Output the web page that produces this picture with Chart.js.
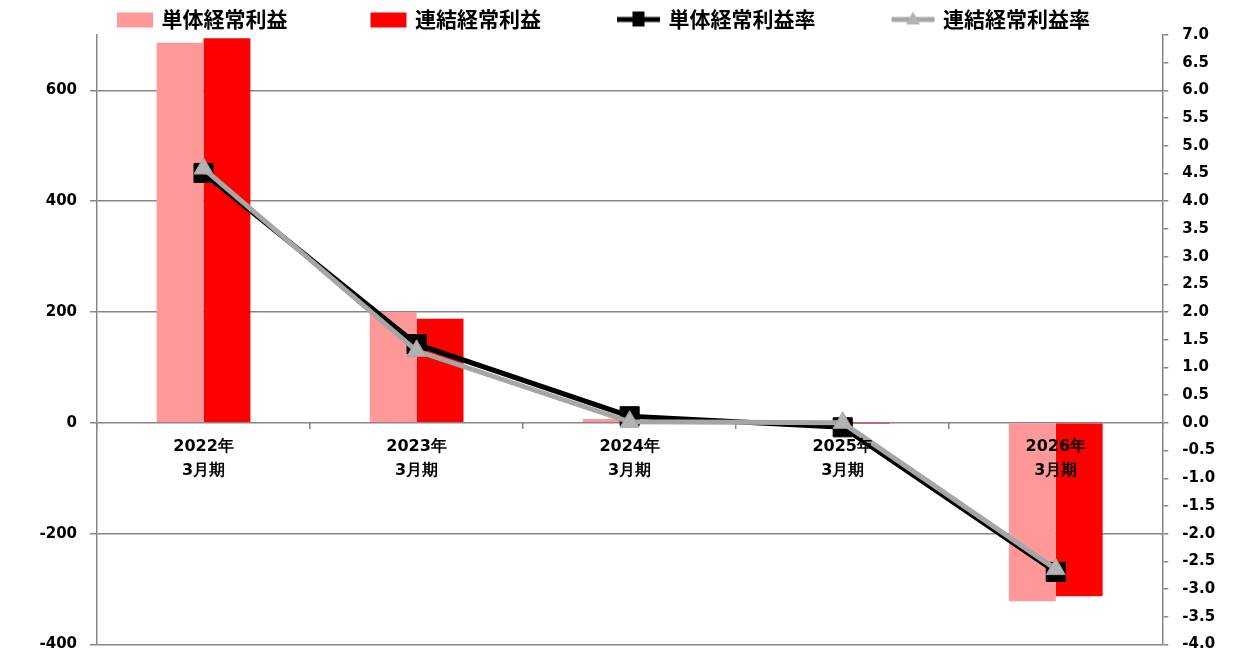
<!DOCTYPE html>
<html>
<head>
<meta charset="utf-8">
<script src="https://cdn.jsdelivr.net/npm/chart.js@4.4.0/dist/chart.umd.min.js"></script>
<style>
  html, body { margin: 0; padding: 0; background: #fff; }
  #wrap { width: 1243px; height: 659px; }
</style>
</head>
<body>
<div id="wrap"><canvas id="profitChart"></canvas></div>
<script>
const periods = [['2022年', '3月期'], ['2023年', '3月期'], ['2024年', '3月期'], ['2025年', '3月期'], ['2026年', '3月期']];
const seriesNames = ['単体経常利益', '連結経常利益', '単体経常利益率', '連結経常利益率'];
const soloProfit = [686, 200, 7, -1, -322];
const consolProfit = [694, 188, 1, -2, -313];
const soloMargin = [4.51, 1.42, 0.12, -0.08, -2.69];
const consolMargin = [4.59, 1.30, 0.02, 0.00, -2.64];
const leftTicks = [-400, -200, 0, 200, 400, 600];

const gridColor = '#868686';
const tickFont = { family: 'DejaVu Sans', size: 15, weight: 'bold' };

// legend swatches are drawn into small canvases and used as point styles
function makeSwatch(kind, color, marker) {
  const c = document.createElement('canvas');
  c.width = 124;
  c.height = 20;
  const g = c.getContext('2d');
  const right = 118;
  if (kind === 'bar') {
    g.fillStyle = color;
    g.fillRect(right - 36, 3, 36, 15);
  } else {
    g.strokeStyle = color;
    g.lineWidth = 5;
    g.beginPath();
    g.moveTo(right - 43, 10);
    g.lineTo(right, 10);
    g.stroke();
    const cx = right - 21.5;
    if (marker === 'rect') {
      g.fillStyle = '#000';
      g.fillRect(cx - 6, 2, 12, 15);
    } else {
      g.fillStyle = '#B3B3B3';
      g.beginPath();
      g.moveTo(cx, 2);
      g.lineTo(cx + 7, 15);
      g.lineTo(cx - 7, 15);
      g.closePath();
      g.fill();
    }
  }
  return c;
}

const swatches = [
  makeSwatch('bar', '#FF9999'),
  makeSwatch('bar', '#FF0000'),
  makeSwatch('line', '#000000', 'rect'),
  makeSwatch('line', '#A6A6A6', 'triangle')
];

const legendHeight = {
  id: 'legendHeight',
  afterInit(chart) {
    const fit = chart.legend.fit;
    chart.legend.fit = function () {
      fit.call(this);
      this.height = 35;
    };
  }
};

const chart = new Chart(document.getElementById('profitChart'), {
  type: 'bar',
  data: {
    labels: periods,
    datasets: [
      {
        label: seriesNames[0], data: soloProfit, yAxisID: 'y', order: 3,
        backgroundColor: '#FF9999', borderWidth: 0,
        categoryPercentage: 0.44, barPercentage: 1
      },
      {
        label: seriesNames[1], data: consolProfit, yAxisID: 'y', order: 3,
        backgroundColor: '#FF0000', borderWidth: 0,
        categoryPercentage: 0.44, barPercentage: 1
      },
      {
        type: 'line', label: seriesNames[2], data: soloMargin, yAxisID: 'y2', order: 2,
        borderColor: '#000000', borderWidth: 5, tension: 0,
        pointStyle: 'rect', pointRadius: 13.5, pointBackgroundColor: '#000', pointBorderColor: '#000', pointBorderWidth: 1
      },
      {
        type: 'line', label: seriesNames[3], data: consolMargin, yAxisID: 'y2', order: 1,
        borderColor: '#A6A6A6', borderWidth: 5, tension: 0,
        pointStyle: 'triangle', pointRadius: 11, pointBackgroundColor: '#B3B3B3', pointBorderColor: '#A0A0A0', pointBorderWidth: 1
      }
    ]
  },
  options: {
    responsive: true,
    maintainAspectRatio: false,
    animation: false,
    layout: { padding: { left: 34, right: 0, top: 0, bottom: 9 } },
    plugins: {
      tooltip: { enabled: false },
      legend: {
        position: 'top',
        align: 'start',
        labels: {
          usePointStyle: true,
          pointStyleWidth: 108,
          padding: 9,
          color: '#000',
          font: { family: 'Noto Sans CJK JP', size: 21, weight: 'bold' },
          generateLabels: (ch) => ch.data.datasets.map((ds, i) => ({
            text: ds.label,
            pointStyle: swatches[i],
            fillStyle: 'transparent',
            strokeStyle: 'transparent',
            lineWidth: 0,
            hidden: false,
            datasetIndex: i
          }))
        }
      }
    },
    scales: {
      x: {
        position: { y: 0 },
        offset: true,
        afterFit: (s) => { s.paddingTop = 0; s.paddingBottom = 0; s.height = 0; },
        border: { display: false },
        grid: { drawOnChartArea: false, drawTicks: true, tickLength: 6, color: gridColor, lineWidth: 1.5, offset: true },
        ticks: { z: 1, color: '#000', font: { family: 'DejaVu Sans', size: 16, weight: 'bold', lineHeight: 1.5 }, padding: 6, maxRotation: 0, autoSkip: false }
      },
      y: {
        position: 'left',
        min: -400,
        max: 700,
        afterBuildTicks: (s) => { s.ticks = leftTicks.map(v => ({ value: v })); },
        afterFit: (s) => { s.width = 63; s.paddingTop = 0; s.paddingBottom = 0; },
        border: { color: gridColor, width: 1.5 },
        grid: { color: gridColor, lineWidth: 1.5, tickLength: 7 },
        ticks: { color: '#000', font: tickFont, padding: 13 }
      },
      y2: {
        position: 'right',
        min: -4,
        max: 7,
        afterFit: (s) => { s.width = 80.7; s.paddingTop = 0; s.paddingBottom = 0; },
        border: { color: gridColor, width: 1.5 },
        grid: { drawOnChartArea: false, color: gridColor, lineWidth: 1.5, tickLength: 6 },
        ticks: { stepSize: 0.5, color: '#000', font: tickFont, padding: 14, callback: (v) => v.toFixed(1) }
      }
    }
  },
  plugins: [legendHeight]
});
</script>
</body>
</html>
